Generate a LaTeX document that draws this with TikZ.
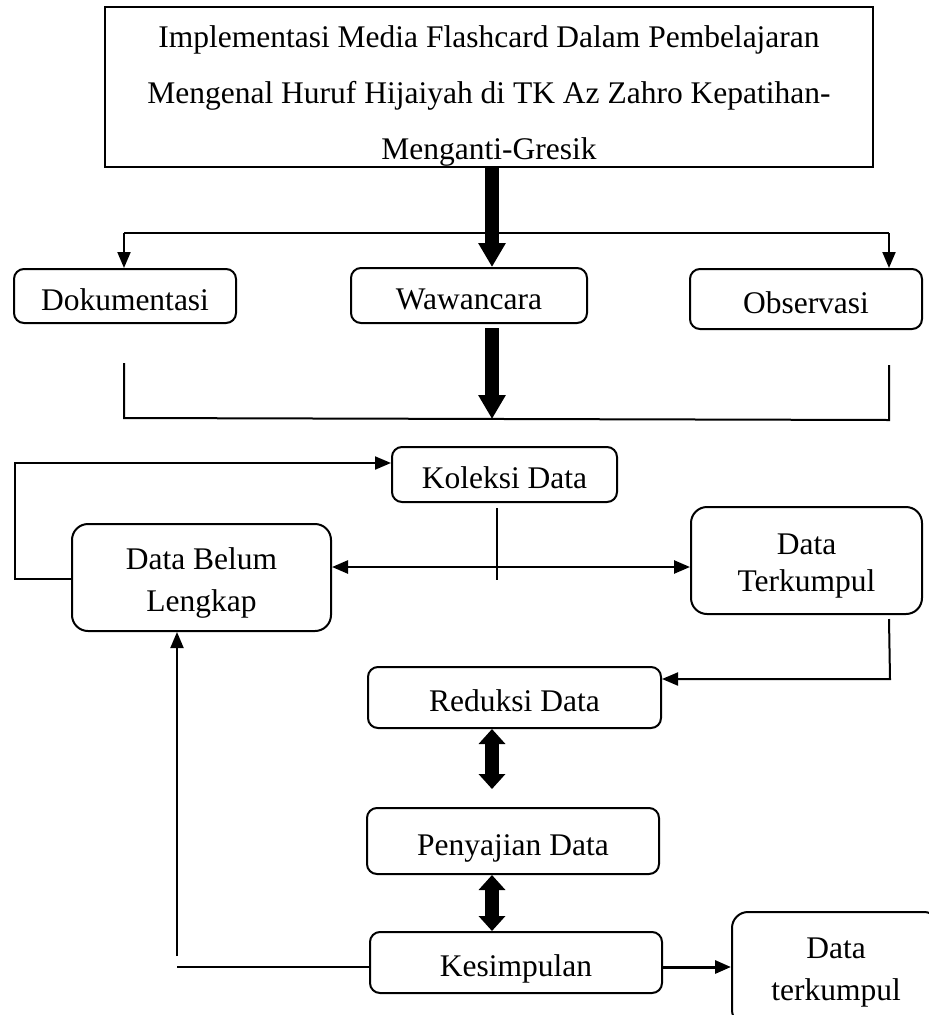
\documentclass[tikz,border=0pt]{standalone}
\usepackage{fontspec}
\setmainfont{Liberation Serif}
\usetikzlibrary{arrows.meta,calc}
\begin{document}
\begin{tikzpicture}[x=1pt,y=-1pt,
  box/.style={draw,line width=2pt,rounded corners=10pt,inner sep=0pt,align=center,
              font=\fontsize{31.5}{42}\selectfont},
  one/.style={text height=28pt,text depth=0pt},
  tall/.style={rounded corners=16pt},
  thinline/.style={line width=2pt},
  tarrow/.style={line width=2pt,-{Triangle[width=13pt,length=16pt]}},
  tdouble/.style={line width=2.5pt,{Triangle[width=13pt,length=16pt]}-{Triangle[width=13pt,length=16pt]}},
  fatarrow/.style={line width=14pt,-{Triangle[width=26pt,length=24pt]}},
  fatdouble/.style={line width=14pt,{Triangle[width=26pt,length=15pt]}-{Triangle[width=26pt,length=15pt]}},
]
\useasboundingbox (0,0) rectangle (929,1015);
\clip (0,0) rectangle (929,1015);

% title
\node[draw,line width=2.5pt,minimum width=768pt,minimum height=160pt,inner sep=0pt] (title) at (489,87) {};
\node[align=center,inner sep=0pt,font=\fontsize{31.5}{56}\selectfont] (ttext) at (489,96)
  {Implementasi Media Flashcard Dalam Pembelajaran\\Mengenal Huruf Hijaiyah di TK Az Zahro Kepatihan-\\Menganti-Gresik};

% boxes
\node[box,one,minimum width=222pt,minimum height=54pt] (dok) at (125,296) {Dokumentasi};
\node[box,one,minimum width=236pt,minimum height=55pt] (waw) at (469,295.5) {Wawancara};
\node[box,one,minimum width=232pt,minimum height=60pt] (obs) at (806,299) {Observasi};
\node[box,one,minimum width=225pt,minimum height=55pt] (kol) at (504.5,474.5) {Koleksi Data};
\node[box,tall,minimum width=259pt,minimum height=107pt] (dbl) at (201.5,577.5) {\rule{0pt}{32pt}Data Belum\\Lengkap};
\node[box,tall,minimum width=231pt,minimum height=107pt,font=\fontsize{31.5}{37.5}\selectfont] (dt) at (806.5,560.5) {\rule{0pt}{32pt}Data\\Terkumpul};
\node[box,one,minimum width=293pt,minimum height=61pt] (red) at (514.5,697.5) {Reduksi Data};
\node[box,one,minimum width=292pt,minimum height=66pt] (pen) at (513,841) {Penyajian Data};
\node[box,one,minimum width=292pt,minimum height=61pt] (kes) at (516,962.5) {Kesimpulan};
\node[box,tall,minimum width=208pt,minimum height=114pt] (dt2) at (836,969) {\rule{0pt}{28pt}Data\\terkumpul};

% coordinates
\coordinate (cx) at (492,0);
\coordinate (ta) at (492,167);
\coordinate (bl) at (124,233);
\coordinate (br) at (889,233);
\coordinate (wb) at (492,328);
\coordinate (jn) at (492,419);
\coordinate (ll) at (124,363);
\coordinate (llb) at (124,418);
\coordinate (lrb) at (889,420);
\coordinate (lr) at (889,365);
\coordinate (fl) at (15,579);
\coordinate (ft) at (15,463);
\coordinate (hm) at (497,567);
\coordinate (vk1) at (497,508);
\coordinate (vk2) at (497,580);
\coordinate (d1) at (889,619);
\coordinate (d2) at (890,679);
\coordinate (pe) at (492,789);
\coordinate (k1) at (0,967);
\coordinate (kl) at (177,967);
\coordinate (ku) at (177,956);

% connectors
\draw[fatarrow] (ta) -- (ta |- waw.north);
\draw[thinline] (bl) -- (br);
\draw[tarrow] (bl) -- (bl |- dok.north);
\draw[tarrow] (br) -- (br |- obs.north);
\draw[fatarrow] (wb) -- (jn);
\draw[thinline] (ll) -- (llb) -- (lrb) -- (lr);

\draw[tarrow] (dbl.west |- fl) -- (fl) -- (ft) -- (kol.west |- ft);
\draw[tdouble] (dbl.east |- hm) -- (dt.west |- hm);
\draw[thinline] (vk1) -- (vk2);
\draw[tarrow] (d1) -- (d2) -- (red.east |- d2);

\draw[fatdouble] (red.south -| cx) -- (pe);
\draw[fatdouble] (pen.south -| cx) -- (kes.north -| cx);

\draw[tarrow,line width=3pt] (kes.east |- k1) -- (dt2.west |- k1);
\draw[thinline] (kes.west |- kl) -- (kl);
\draw[tarrow] (ku) -- (ku |- dbl.south);
\end{tikzpicture}
\end{document}
